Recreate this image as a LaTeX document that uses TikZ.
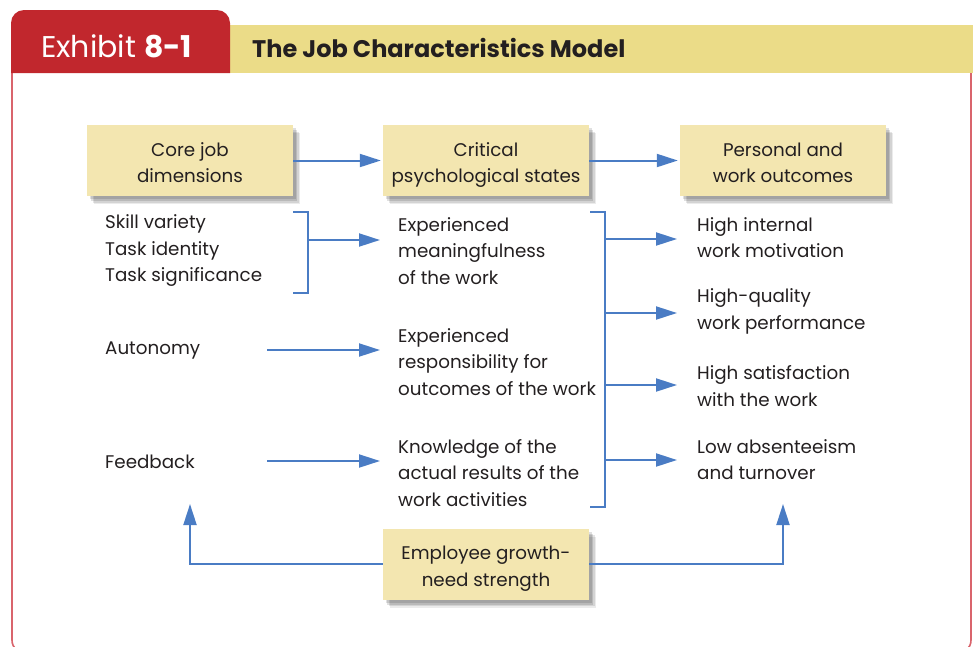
\documentclass[tikz,border=0pt]{standalone}
\usepackage{fontspec}
\setmainfont{Poppins}
\usetikzlibrary{arrows.meta,shadows}
\definecolor{exred}{HTML}{C1272D}
\definecolor{exborder}{HTML}{D9646C}
\definecolor{exyellow}{HTML}{EBDC88}
\definecolor{boxfill}{HTML}{F3E6B0}
\definecolor{arrblue}{HTML}{4A7CC4}
\definecolor{txt}{HTML}{231F20}
\newcommand{\lowerit}[1]{\raisebox{-3.5pt}[\height][\depth]{\begin{tabular}{@{}c@{}}#1\end{tabular}}}
\begin{document}
\begin{tikzpicture}[x=1pt,y=-1pt,
  bodytext/.style={font=\fontsize{18.3}{26.5}\selectfont, text=txt, inner sep=0pt, align=left, anchor=west},
  hbox/.style={fill=boxfill, minimum width=206pt, minimum height=71pt, inner sep=0pt, align=center,
     font=\fontsize{18.3}{26.5}\selectfont, text=txt,
     drop shadow={shadow xshift=7pt, shadow yshift=-8pt, opacity=0.08, fill=black},
     drop shadow={shadow xshift=5.5pt, shadow yshift=-6.5pt, opacity=0.1, fill=black},
     drop shadow={shadow xshift=4pt, shadow yshift=-5pt, opacity=0.12, fill=black},
     drop shadow={shadow xshift=2.5pt, shadow yshift=-3pt, opacity=0.12, fill=black}},
  arr/.style={draw=arrblue, line width=2pt, -{Triangle[length=21pt,width=13pt]}},
  brk/.style={draw=arrblue, line width=2pt}
]
\useasboundingbox (0,0) rectangle (974,646);
\begin{scope}
\clip (0,0) rectangle (974,646);
\draw[exborder, line width=1.6pt, rounded corners=14pt] (12,60) -- (12,654) -- (971,654) -- (971,60);
\end{scope}
% header
\fill[exyellow] (230,25) rectangle (973,73);
\fill[exred] (11,73) [rounded corners=13pt] -- (11,10) -- (230,10) [sharp corners] -- (230,73) -- cycle;
\node[anchor=base west, inner sep=0pt, text=white, font=\fontsize{30}{30}\selectfont] (exh) at (41,57) {Exhibit \textbf{8-1}};
\node[anchor=base west, inner sep=0pt, text=txt, font=\fontsize{24}{24}\selectfont\bfseries] (ttl) at (252,57) {The Job Characteristics Model};
% header boxes
\node[hbox] (core) at (190,160.5) {\lowerit{Core job\\dimensions}};
\node[hbox] (crit) at (486,160.5) {\lowerit{Critical\\psychological states}};
\node[hbox] (pers) at (783,160.5) {\lowerit{Personal and\\work outcomes}};
\draw[arr, shorten >=2pt] (core.east) -- (crit.west);
\draw[arr, shorten >=2pt] (crit.east) -- (pers.west);
% left column
\node[bodytext] (skills) at (105,251) {Skill variety\\Task identity\\Task significance};
\node[bodytext] (auto) at (105,351) {Autonomy};
\node[bodytext] (feed) at (105,462) {Feedback};
% middle column
\node[bodytext] (mean) at (398,251) {Experienced\\meaningfulness\\of the work};
\node[bodytext] (resp) at (398,362) {Experienced\\responsibility for\\outcomes of the work};
\node[bodytext] (know) at (398,473) {Knowledge of the\\actual results of the\\work activities};
% right column
\node[bodytext] (o1) at (697,237.5) {High internal\\work motivation};
\node[bodytext] (o2) at (697,311.5) {High-quality\\work performance};
\node[bodytext] (o3) at (697,386) {High satisfaction\\with the work};
\node[bodytext] (o4) at (697,459.5) {Low absenteeism\\and turnover};
% bracket 1
\draw[brk] (293,212) -- (308,212) -- (308,293) -- (293,293);
\coordinate (b1) at (308,240);
\draw[arr] (b1) -- (380,240);
% autonomy / feedback arrows
\coordinate (a1) at (267,350);
\coordinate (f1) at (267,461);
\draw[arr] (a1) -- (380,350);
\draw[arr] (f1) -- (380,461);
% bracket 2
\draw[brk] (590,212) -- (605,212) -- (605,507) -- (590,507);
\coordinate (c1) at (605,239);
\coordinate (c2) at (605,313);
\coordinate (c3) at (605,385);
\coordinate (c4) at (605,460);
\draw[arr] (c1) -- (677,239);
\draw[arr] (c2) -- (677,313);
\draw[arr] (c3) -- (677,385);
\draw[arr] (c4) -- (677,460);
% bottom
\node[hbox] (egn) at (486,564) {\lowerit{Employee growth-\\need strength}};
\coordinate (lt) at (190,504);
\coordinate (rt) at (783,504);
\draw[arr] (egn.west) -| (lt);
\draw[arr] (egn.east) -| (rt);
\end{tikzpicture}
\end{document}
